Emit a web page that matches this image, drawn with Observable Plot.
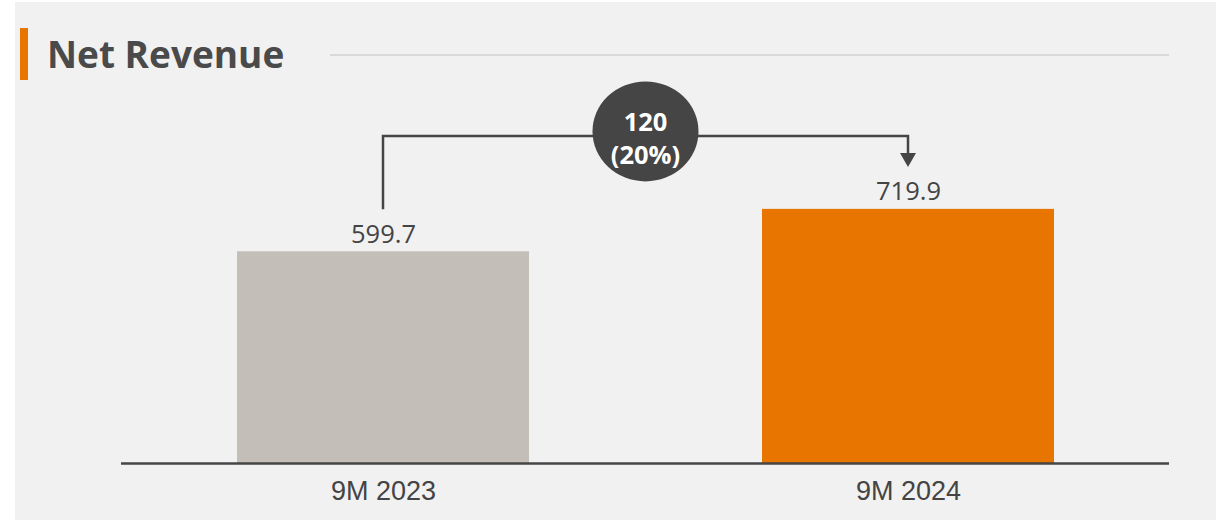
<!DOCTYPE html>
<html>
<head>
<meta charset="utf-8">
<script src="https://cdn.jsdelivr.net/npm/d3@7"></script>
<script src="https://cdn.jsdelivr.net/npm/@observablehq/plot@0.6"></script>
<style>
  html, body { margin: 0; padding: 0; background: #ffffff; width: 1223px; height: 520px; overflow: hidden; }
  #panel { position: absolute; left: 15px; top: 2px; width: 1201px; height: 518px; background: #f1f1f1; }
  #header { position: relative; height: 90px; }
  #accent { position: absolute; left: 5px; top: 26px; width: 8px; height: 52px; background: #e87500; }
  #title { position: absolute; left: 32px; top: 33px; margin: 0; font: bold 37px/37px "Open Sans", sans-serif; color: #4a4a4a; white-space: nowrap; }
  #rule { position: absolute; left: 315px; top: 52px; width: 839px; height: 1.5px; background: #d9d9d9; }
  #chart svg { display: block; }
</style>
</head>
<body>
<div id="panel">
  <div id="header">
    <div id="accent"></div>
    <h1 id="title">Net Revenue</h1>
    <div id="rule"></div>
  </div>
  <div id="chart"></div>
</div>
<script>
const categories = ["9M 2023", "9M 2024"];
const values = [599.7, 719.9];
const valueLabels = ["599.7", "719.9"];
const barColors = ["#c3bfb8", "#e87500"];
const changeLabels = ["120", "(20%)"];

const data = categories.map((c, i) => ({cat: c, value: values[i], label: valueLabels[i]}));

function connector(index, scales) {
  const {x, y} = scales;
  const bw = x.bandwidth();
  const x0 = x(categories[0]) + bw / 2;
  const x1 = x(categories[1]) + bw / 2;
  const top0 = y(values[0]);
  const top1 = y(values[1]);
  const level = Math.min(top0, top1) - 73;
  const tip = top1 - 42;
  const g = d3.create("svg:g");
  g.append("path")
    .attr("d", `M${x0},${top0 - 42}V${level}H${x1}V${tip - 13}`)
    .attr("fill", "none")
    .attr("stroke", "#454545")
    .attr("stroke-width", 2.5);
  g.append("path")
    .attr("d", `M${x1 - 8},${tip - 14}L${x1 + 8},${tip - 14}L${x1},${tip}Z`)
    .attr("fill", "#454545");
  const cx = (x0 + x1) / 2;
  g.append("ellipse")
    .attr("cx", cx).attr("cy", level - 4.5)
    .attr("rx", 53).attr("ry", 50)
    .attr("fill", "#454545");
  const offs = [-15, 18];
  changeLabels.forEach((t, i) => {
    g.append("text")
      .attr("x", cx).attr("y", level + offs[i])
      .attr("text-anchor", "middle")
      .attr("dominant-baseline", "central")
      .attr("fill", "#ffffff")
      .attr("font-family", "Open Sans")
      .attr("font-weight", "bold")
      .attr("font-size", 25.5)
      .text(t);
  });
  return g.node();
}

const chart = Plot.plot({
  width: 1201,
  height: 426,
  marginLeft: 106,
  marginRight: 47,
  marginTop: 18,
  marginBottom: 55,
  style: {background: "transparent", fontFamily: "Open Sans", color: "#444444", overflow: "visible"},
  x: {domain: categories, paddingInner: 0.444, paddingOuter: 0.22, label: null},
  y: {domain: [0, 1000], axis: null},
  color: {domain: categories, range: barColors},
  marks: [
    Plot.barY(data, {x: "cat", y: "value", fill: "cat"}),
    Plot.text(data, {x: "cat", y: "value", text: "label", lineAnchor: "bottom", dy: -9, fontSize: 25.5, fill: "#444444", fontFamily: "Open Sans"}),
    Plot.ruleY([0], {stroke: "#454545", strokeWidth: 2.5}),
    Plot.axisX({tickSize: 0, tickPadding: 17, fontSize: 27, fontFamily: "Liberation Sans", label: null}),
    connector
  ]
});
document.getElementById("chart").appendChild(chart);
</script>
</body>
</html>
